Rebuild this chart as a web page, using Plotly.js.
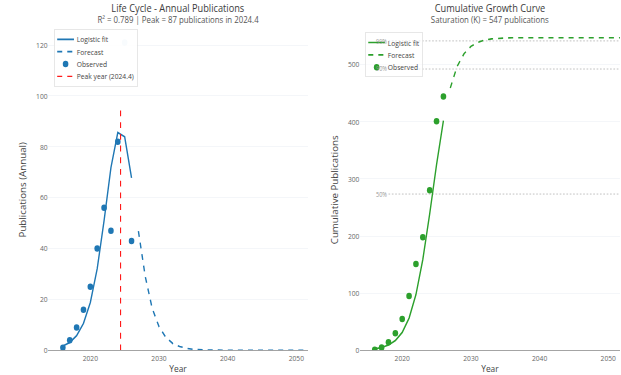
<!DOCTYPE html>
<html>
<head>
<meta charset="utf-8">
<script src="https://cdn.plot.ly/plotly-3.0.1.min.js"></script>
<style>
html,body{margin:0;padding:0;background:#fff;overflow:hidden;width:621px;height:375px;}
#chart{width:1110px;height:577px;transform:scale(0.5595,0.65);transform-origin:0 0;}
</style>
</head>
<body>
<div id="chart"></div>
<script>
// ---- data ----
const obsYears = [2016,2017,2018,2019,2020,2021,2022,2023,2024,2026];
const obsAnnual = [1,4,9,16,25,40,56,47,82,43];
const faintYear = [2025];
const faintAnnual = [121];

const fitYears = [2016,2017,2018,2019,2020,2021,2022,2023,2024,2025,2026];
const fitAnnual = [1.7,3.1,5.8,10.6,18.8,32.1,51.0,71.8,85.6,83.9,67.8];

const fcYears = [2027,2028,2029,2030,2031,2032,2033,2034,2035,2036,2037,2038,2039,
                 2040,2041,2042,2043,2044,2045,2046,2047,2048,2049,2050,2051,2052];
const fcAnnual = [46.9,29.0,16.6,9.3,5.1,2.7,1.5,0.8,0.4,0.2,0.1,0.1,0,
                  0,0,0,0,0,0,0,0,0,0,0,0,0];

const peakX = [2024.4,2024.4];
const peakY = [0,96.5];

const cumYears = [2016,2017,2018,2019,2020,2021,2022,2023,2024,2025,2026];
const cumObs = [1,5,14,30,55,95,151,198,280,401,444];
const cumFit = [2.6,4.9,9.2,17.1,31.4,56.5,97.6,159,239,325,402];
const cumFc = [459,497,519,532,539,543,545,546,546.5,547,547,547,547,
               547,547,547,547,547,547,547,547,547,547,547,547,547];

const refLabels = ["50%","90%","99%"];
const refValues = [273.5,492.3,541.5];

const xTicks = [2020,2030,2040,2050];

// ---- styling ----
const blue = '#1f77b4', green = '#2ca02c', red = '#ff1a1a';
const xRange = [2013.85, 2051.7];

const traces = [
  {x: fitYears, y: fitAnnual, type:'scatter', mode:'lines', name:'Logistic fit',
   line:{color:blue, width:2.5}, xaxis:'x', yaxis:'y', legend:'legend'},
  {x: fcYears, y: fcAnnual, type:'scatter', mode:'lines', name:'Forecast',
   line:{color:blue, width:2.5, dash:'dash'}, xaxis:'x', yaxis:'y', legend:'legend'},
  {x: obsYears, y: obsAnnual, type:'scatter', mode:'markers', name:'Observed',
   marker:{color:blue, size:10}, xaxis:'x', yaxis:'y', legend:'legend'},
  {x: faintYear, y: faintAnnual, type:'scatter', mode:'markers', name:'Observed (partial)',
   marker:{color:blue, size:10, opacity:0.22}, showlegend:false, xaxis:'x', yaxis:'y'},
  {x: peakX, y: peakY, type:'scatter', mode:'lines', name:'Peak year (2024.4)',
   line:{color:red, width:2, dash:'dash'}, xaxis:'x', yaxis:'y', legend:'legend'},

  {x: cumYears, y: cumFit, type:'scatter', mode:'lines', name:'Logistic fit',
   line:{color:green, width:2.5}, xaxis:'x2', yaxis:'y2', legend:'legend2'},
  {x: fcYears, y: cumFc, type:'scatter', mode:'lines', name:'Forecast',
   line:{color:green, width:2.5, dash:'dash'}, xaxis:'x2', yaxis:'y2', legend:'legend2'},
  {x: cumYears, y: cumObs, type:'scatter', mode:'markers', name:'Observed',
   marker:{color:green, size:10}, xaxis:'x2', yaxis:'y2', legend:'legend2'}
];

const shapes = refValues.map(v => ({
  type:'line', xref:'x2', yref:'y2', x0:2018, x1:xRange[1], y0:v, y1:v,
  line:{color:'#aaaaaa', width:1.2, dash:'dot'}, layer:'below'
}));

const annotations = [];
refValues.forEach((v,i) => annotations.push({
  xref:'x2', yref:'y2', x:2018, y:v, text:refLabels[i], showarrow:false,
  xanchor:'right', yanchor:'middle', font:{size:10, color:'#999'}
}));
const titles = [
  {x:0.2273, t:'Life Cycle - Annual Publications', s:'R² = 0.789 | Peak = 87 publications in 2024.4'},
  {x:0.7727, t:'Cumulative Growth Curve', s:'Saturation (K) = 547 publications'}
];
titles.forEach(o => {
  annotations.push({xref:'paper', yref:'paper', x:o.x, y:1, xanchor:'center', yanchor:'middle',
    yshift:33.5, text:o.t, showarrow:false, font:{size:16.5, color:'#3b3b3b'}});
  annotations.push({xref:'paper', yref:'paper', x:o.x, y:1, xanchor:'center', yanchor:'middle',
    yshift:14.5, text:o.s, showarrow:false, font:{size:14, color:'#555'}});
});

const axisCommon = {showgrid:false, zeroline:false, showline:true, linecolor:'#9a9a9a', linewidth:1.5,
  tickvals:xTicks, ticks:'', tickfont:{size:12, color:'#666'}, range:xRange,
  title:{text:'Year', font:{size:15, color:'#444'}}};
const yCommon = {showgrid:true, gridcolor:'#edf0f5', zeroline:false, showline:false, ticks:'',
  tickfont:{size:12, color:'#666'}};

const layout = {
  width:1110, height:577,
  margin:{l:86, r:2, t:44.6, b:37.5},
  paper_bgcolor:'#fff', plot_bgcolor:'#fff',
  font:{family:'"Open Sans", verdana, arial, sans-serif', size:12, color:'#444'},
  xaxis: Object.assign({}, axisCommon, {domain:[0,0.4545], anchor:'y'}),
  yaxis: Object.assign({}, yCommon, {range:[0,126.2], tickvals:[0,20,40,60,80,100,120], anchor:'x',
    title:{text:'Publications (Annual)', font:{size:15, color:'#444'}}}),
  xaxis2: Object.assign({}, axisCommon, {domain:[0.5454,1], anchor:'y2'}),
  yaxis2: Object.assign({}, yCommon, {range:[0,561.9], tickvals:[0,100,200,300,400,500], anchor:'x2',
    title:{text:'Cumulative Publications', font:{size:15, color:'#444'}}}),
  legend:{x:0.01, y:1, xanchor:'left', yanchor:'top', bgcolor:'rgba(255,255,255,0.85)',
    bordercolor:'#d8d8d8', borderwidth:1, font:{size:12, color:'#444'}},
  legend2:{x:0.554, y:0.99, xanchor:'left', yanchor:'top', bgcolor:'rgba(255,255,255,0.6)',
    bordercolor:'#d8d8d8', borderwidth:1, font:{size:12, color:'#444'}},
  shapes: shapes,
  annotations: annotations,
  showlegend:true
};

Plotly.newPlot('chart', traces, layout, {displayModeBar:false, staticPlot:true});
</script>
</body>
</html>
